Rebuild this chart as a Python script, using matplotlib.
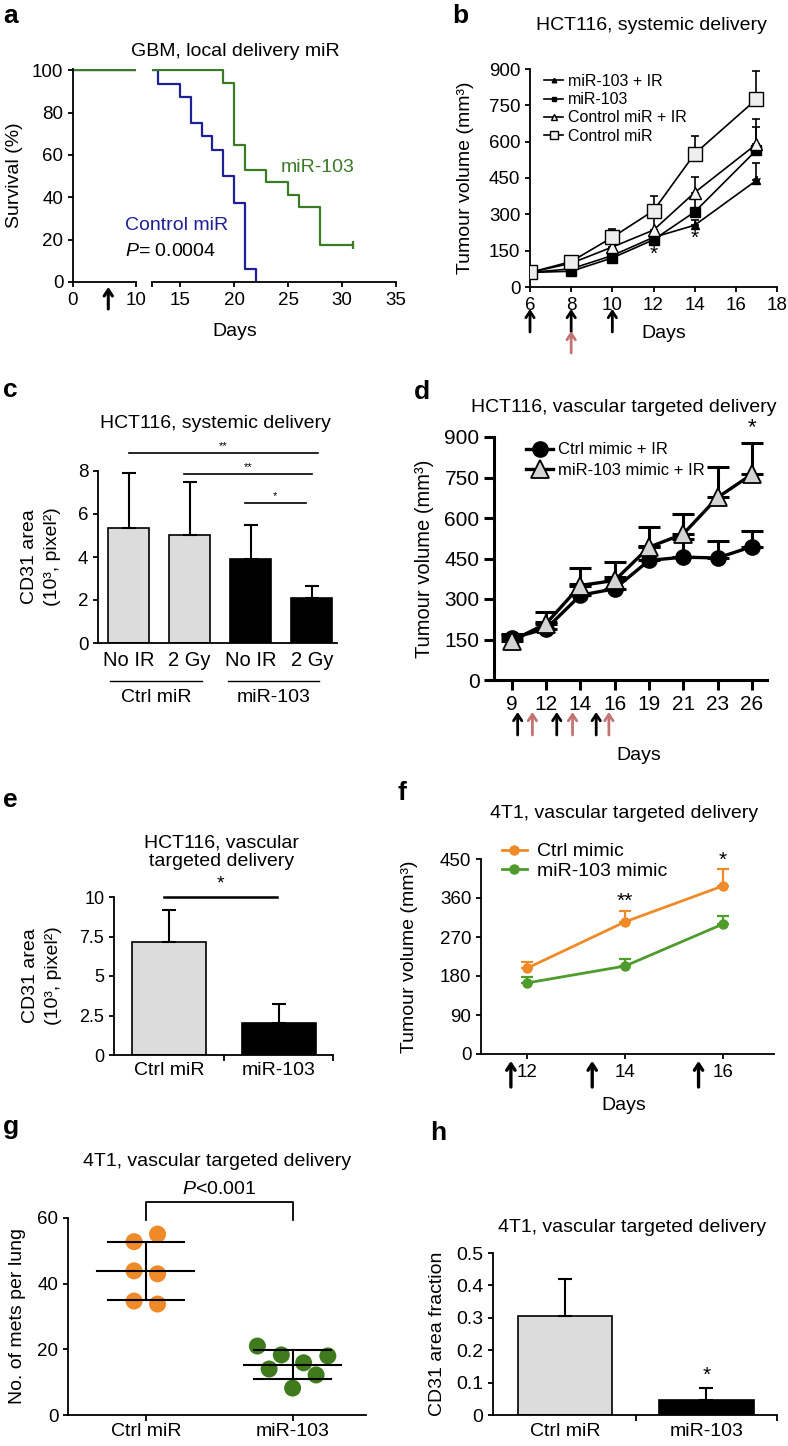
import matplotlib
matplotlib.use("Agg")
import matplotlib.pyplot as plt
import numpy as np

plt.rcParams["font.family"] = ["Liberation Sans", "DejaVu Sans"]
plt.rcParams["mathtext.fontset"] = "custom"
plt.rcParams["mathtext.rm"] = "Liberation Sans"
plt.rcParams["mathtext.it"] = "Liberation Sans:italic"
plt.rcParams["axes.linewidth"] = 1.3
plt.rcParams["xtick.major.width"] = 1.3
plt.rcParams["ytick.major.width"] = 1.3
plt.rcParams["xtick.labelsize"] = 13.5
plt.rcParams["ytick.labelsize"] = 13.5

# ── Data ──────────────────────────────────────────────────────────────────────

# a: survival, GBM local delivery
a_ctrl_days = [0, 13, 15, 16, 17, 18, 19, 20, 21, 22]
a_ctrl_surv = [100, 93.75, 87.5, 75, 68.75, 62.5, 50, 37.5, 6.25, 0]
a_mir_days = [0, 19, 20, 21, 23, 25, 26, 28, 31]
a_mir_surv = [100, 94.1, 64.7, 52.9, 47.1, 41.2, 35.3, 17.6, 17.6]
a_treat_day = 5.6

# b: HCT116 systemic delivery
b_days = [6, 8, 10, 12, 14, 17]
b_mir_ir = [60, 75, 130, 205, 255, 440]
b_mir_ir_err = [0, 5, 10, 15, 20, 70]
b_mir = [60, 65, 120, 195, 310, 565]
b_mir_err = [0, 5, 10, 20, 55, 95]
b_ctrl_ir = [60, 98, 165, 235, 390, 590]
b_ctrl_ir_err = [0, 5, 20, 48, 66, 105]
b_ctrl = [60, 105, 205, 315, 550, 775]
b_ctrl_err = [0, 8, 33, 62, 75, 115]
b_star_days = [12, 14, 17]
b_star_y = [135, 200, 425]
b_mir_arrows = [6, 8, 10]
b_ir_arrows = [8]

# c: CD31 area, systemic delivery
c_labels = ["No IR", "2 Gy", "No IR", "2 Gy"]
c_groups = ["Ctrl miR", "miR-103"]
c_vals = [5.35, 5.0, 3.93, 2.07]
c_err = [2.55, 2.47, 1.57, 0.57]

# d: HCT116 vascular targeted delivery
d_days = ["9", "12", "14", "16", "19", "21", "23", "26"]
d_ctrl = [155, 190, 314, 338, 443, 455, 452, 494]
d_ctrl_err = [15, 25, 40, 45, 55, 67, 64, 59]
d_mir = [145, 209, 350, 369, 492, 541, 676, 762]
d_mir_err = [20, 43, 64, 67, 74, 74, 114, 117]
d_mir_arrows = [0.17, 1.31, 2.46]
d_ir_arrows = [0.6, 1.77, 2.83]

# e: CD31 area, vascular targeted delivery
e_labels = ["Ctrl miR", "miR-103"]
e_vals = [7.17, 2.05]
e_err = [2.0, 1.2]

# f: 4T1 tumour volume
f_days = [12, 14, 16]
f_ctrl = [198, 305, 388]
f_ctrl_err = [14, 25, 39]
f_mir = [164, 203, 300]
f_mir_err = [14, 16, 18]
f_arrows = [11.67, 13.33, 15.5]

# g: lung metastases
g_labels = ["Ctrl miR", "miR-103"]
g_ctrl = [52.8, 55.1, 43.9, 43.0, 34.7, 33.8]
g_ctrl_x = [-0.08, 0.08, -0.08, 0.08, -0.08, 0.08]
g_mir = [21.0, 18.3, 18.0, 15.9, 14.0, 12.2, 8.2]
g_mir_x = [-0.24, -0.077, 0.24, 0.075, -0.16, 0.16, 0.0]

# h: CD31 area fraction, 4T1
h_labels = ["Ctrl miR", "miR-103"]
h_vals = [0.305, 0.046]
h_err = [0.115, 0.037]

GREY = "#dcdcdc"
BLUE = "#1f1f96"
DKGREEN = "#3d7a26"
ORANGE = "#ee8a28"
LTGREEN = "#4f9b2c"
GDOT = "#3f7a1c"
SALMON = "#c27472"
FS = 14

# ── Helpers ──────────────────────────────────────────────────────────────────

W, H = 788, 1446
fig = plt.figure(figsize=(W / 100, H / 100), dpi=100)


def add_ax(l, t, r, b):
    ax = fig.add_axes([l / W, 1 - b / H, (r - l) / W, (b - t) / H])
    ax.spines[["top", "right"]].set_visible(False)
    return ax


def ftext(x, y, s, **kw):
    kw.setdefault("ha", "center")
    kw.setdefault("va", "center")
    return fig.text(x / W, 1 - y / H, s, **kw)


def ylab(ax, s, x_px, size=FS, **kw):
    ax.set_ylabel(s, fontsize=size, va="center", **kw)
    bb = ax.get_position()
    ax.yaxis.set_label_coords((x_px / W - bb.x0) / bb.width, 0.5)


def up_arrow(ax, x, y0_px, y1_px, color="black", lw=2.0):
    ax.annotate("", xy=(x, 1 - y1_px / H), xytext=(x, 1 - y0_px / H),
                xycoords=("data", "figure fraction"),
                textcoords=("data", "figure fraction"),
                arrowprops=dict(arrowstyle="->,head_length=0.45,head_width=0.3",
                                color=color, lw=lw, shrinkA=0, shrinkB=0),
                annotation_clip=False)


def letter(x, y, s):
    ftext(x, y, s, fontsize=19, fontweight="bold", ha="left")


# ── a: survival ──────────────────────────────────────────────────────────────

axa1 = add_ax(73, 69, 136, 282)
axa2 = add_ax(152, 69, 396, 282)
for ax in (axa1, axa2):
    ax.step(a_ctrl_days, a_ctrl_surv, where="post", color=BLUE, lw=1.6)
    ax.step(a_mir_days, a_mir_surv, where="post", color=DKGREEN, lw=1.6)
    ax.set_ylim(0, 100.6)
axa2.plot(a_mir_days[-1], a_mir_surv[-1], marker="|", ms=6, mew=1.6, color=DKGREEN)
axa1.set_xlim(0, 10)
axa1.set_xticks([0, 10])
axa1.set_yticks(np.arange(0, 101, 20))
axa2.set_xlim(12.4, 35)
axa2.set_xticks([15, 20, 25, 30, 35])
axa2.set_xticks([12.4], minor=True)
axa2.tick_params(axis="x", which="minor", length=3.5, width=1.3)
axa2.spines["left"].set_visible(False)
axa2.set_yticks([])
ylab(axa1, "Survival (%)", 14)
up_arrow(axa1, a_treat_day, 309, 287, lw=2.2)
ftext(235, 52, "GBM, local delivery miR", fontsize=FS)
ftext(235, 332, "Days", fontsize=FS)
ftext(318, 167, "miR-103", color=DKGREEN, fontsize=FS)
ftext(177, 226, "Control miR", color=BLUE, fontsize=FS)
ftext(170, 252, "$P$= 0.0004", fontsize=FS)
letter(3, 16, "a")

# ── b: systemic delivery growth ──────────────────────────────────────────────

axb = add_ax(530, 69, 777, 287)
for vals, err in [(b_mir_ir, b_mir_ir_err), (b_mir, b_mir_err),
                  (b_ctrl_ir, b_ctrl_ir_err), (b_ctrl, b_ctrl_err)]:
    axb.errorbar(b_days, vals, yerr=[np.zeros(len(err)), err], fmt="none",
                 ecolor="black", elinewidth=1.2, capsize=3, capthick=1.2)
axb.plot(b_days, b_mir_ir, "-^", color="black", ms=6, lw=1.2, label="miR-103 + IR", zorder=3)
axb.plot(b_days, b_mir, "-s", color="black", ms=6.5, lw=1.2, label="miR-103", zorder=3)
axb.plot(b_days, b_ctrl_ir, "-^", color="black", mfc="#f4f4f4", mec="black", ms=9,
         lw=1.2, label="Control miR + IR", zorder=4)
axb.plot(b_days, b_ctrl, "-s", color="black", mfc="#eeeeee", mec="black", ms=10,
         lw=1.2, label="Control miR", zorder=5)
for d, y in zip(b_star_days, b_star_y):
    axb.text(d, y, "*", ha="center", va="center", fontsize=15)
axb.set_xlim(6, 18)
axb.set_ylim(0, 900)
axb.set_xticks(np.arange(6, 19, 2))
axb.set_yticks(np.arange(0, 901, 150))
axb.legend(loc="upper left", bbox_to_anchor=(536 / W, 1 - 66 / H),
           bbox_transform=fig.transFigure, frameon=False, fontsize=11.5,
           handlelength=1.2, handletextpad=0.3, labelspacing=0.2,
           borderpad=0, markerscale=0.55)
ylab(axb, "Tumour volume (mm³)", 465)
for d in b_mir_arrows:
    up_arrow(axb, d, 332, 309)
for d in b_ir_arrows:
    up_arrow(axb, d, 353, 331, color=SALMON)
ftext(664, 333, "Days", fontsize=FS)
ftext(651, 25, "HCT116, systemic delivery", fontsize=FS)
letter(452, 16, "b")

# ── c: CD31 area, systemic delivery ──────────────────────────────────────────

axc = add_ax(98, 471, 337, 643)
xc = np.arange(len(c_vals))
axc.bar(xc, c_vals, width=0.67, color=[GREY, GREY, "black", "black"],
        edgecolor="black", linewidth=1.2,
        yerr=[np.zeros(len(c_err)), c_err], capsize=5,
        error_kw=dict(elinewidth=1.5, capthick=1.5, ecolor="black"))
axc.set_xlim(-0.5, 3.41)
axc.set_ylim(0, 8)
axc.set_yticks(np.arange(0, 9, 2))
axc.set_xticks(xc)
axc.set_xticklabels(c_labels, fontsize=14.5)
axc.tick_params(axis="x", length=0, pad=6)
for (x0, x1), name in zip([(-0.31, 1.2), (1.63, 3.12)], c_groups):
    axc.plot([x0, x1], [-1.77, -1.77], color="black", lw=1.0, clip_on=False)
    axc.text((x0 + x1) / 2, -2.55, name, ha="center", va="center", fontsize=FS)
for x0, x1, y, s in [(0, 3.1, 8.84, "**"), (0.91, 3.0, 7.86, "**"), (1.9, 2.9, 6.5, "*")]:
    axc.plot([x0, x1], [y, y], color="black", lw=1.2, clip_on=False)
    axc.text((x0 + x1) / 2, y + 0.08, s, ha="center", va="bottom", fontsize=8)
ylab(axc, "CD31 area\n(10³, pixel²)", 41, linespacing=1.4)
ftext(215, 423, "HCT116, systemic delivery", fontsize=FS)
letter(3, 390, "c")

# ── d: vascular targeted delivery + IR ───────────────────────────────────────

axd = add_ax(494, 437, 767, 680)
for ax_ in axd.spines.values():
    ax_.set_linewidth(2.2)
xd = np.arange(len(d_days))
axd.errorbar(xd, d_ctrl, yerr=[np.zeros(len(d_ctrl_err)), d_ctrl_err], fmt="none",
             ecolor="black", elinewidth=2.2, capsize=8, capthick=2.2)
axd.errorbar(xd, d_mir, yerr=[np.zeros(len(d_mir_err)), d_mir_err], fmt="none",
             ecolor="black", elinewidth=2.2, capsize=8, capthick=2.2)
axd.plot(xd, d_ctrl, "-o", color="black", ms=11, lw=2.4, label="Ctrl mimic + IR", zorder=3)
axd.plot(xd, d_mir, "-^", color="black", mfc="#d4d4d4", mec="black", mew=1.3, ms=13,
         lw=2.4, label="miR-103 mimic + IR", zorder=4)
axd.text(xd[-1], 935, "*", ha="center", va="center", fontsize=16)
axd.set_xlim(-0.52, 7.44)
axd.set_ylim(0, 900)
axd.set_xticks(xd)
axd.set_xticklabels(d_days)
axd.set_yticks(np.arange(0, 901, 150))
axd.tick_params(labelsize=15, width=2.2, length=7)
axd.legend(loc="upper left", bbox_to_anchor=(518 / W, 1 - 434 / H),
           bbox_transform=fig.transFigure, frameon=False, fontsize=12,
           handlelength=1.6, handletextpad=0.3, labelspacing=0.35, borderpad=0)
ylab(axd, "Tumour volume (mm³)", 425, size=14.5)
for d in d_mir_arrows:
    up_arrow(axd, d, 735, 712)
for d in d_ir_arrows:
    up_arrow(axd, d, 735, 712, color=SALMON)
ftext(639, 755, "Days", fontsize=FS)
ftext(624, 407, "HCT116, vascular targeted delivery", fontsize=14)
letter(414, 392, "d")

# ── e: CD31 area, vascular targeted delivery ─────────────────────────────────

axe = add_ax(114, 897, 333, 1055)
xe = np.arange(len(e_vals))
axe.bar(xe, e_vals, width=0.67, color=[GREY, "black"], edgecolor="black", linewidth=1.2,
        yerr=[np.zeros(len(e_err)), e_err], capsize=5,
        error_kw=dict(elinewidth=1.5, capthick=1.5, ecolor="black"))
axe.set_xlim(-0.5, 1.49)
axe.set_ylim(0, 10)
axe.set_yticks([0, 2.5, 5, 7.5, 10])
axe.set_yticklabels(["0", "2.5", "5", "7.5", "10"], fontsize=13)
axe.set_xticks(xe)
axe.set_xticklabels(e_labels, fontsize=FS)
axe.set_xticks([0.5, 1.49], minor=True)
axe.tick_params(axis="x", which="major", length=0, pad=5)
axe.tick_params(axis="x", which="minor", length=4, width=1.3)
axe.plot([-0.05, 0.98], [10, 10], color="black", lw=1.8, clip_on=False)
axe.text(0.47, 10.3, "*", ha="center", va="bottom", fontsize=14)
ylab(axe, "CD31 area\n(10³, pixel²)", 42, linespacing=1.4)
ftext(222, 852, "HCT116, vascular\ntargeted delivery", fontsize=FS, linespacing=1.15)
letter(3, 800, "e")

# ── f: 4T1 tumour volume ─────────────────────────────────────────────────────

axf = add_ax(481, 859, 774, 1054)
axf.errorbar(f_days, f_ctrl, yerr=[np.zeros(len(f_ctrl_err)), f_ctrl_err], fmt="none",
             ecolor=ORANGE, elinewidth=1.6, capsize=4, capthick=1.6)
axf.errorbar(f_days, f_mir, yerr=[np.zeros(len(f_mir_err)), f_mir_err], fmt="none",
             ecolor=LTGREEN, elinewidth=1.6, capsize=4, capthick=1.6)
axf.plot(f_days, f_ctrl, "-o", color=ORANGE, ms=6.5, lw=2, label="Ctrl mimic", zorder=3)
axf.plot(f_days, f_mir, "-o", color=LTGREEN, ms=6.5, lw=2, label="miR-103 mimic", zorder=3)
axf.text(14, 352, "**", ha="center", va="center", fontsize=15)
axf.text(16, 447, "*", ha="center", va="center", fontsize=15)
axf.set_xlim(11.06, 17.04)
axf.set_ylim(0, 450)
axf.set_xticks(f_days)
axf.set_yticks(np.arange(0, 451, 90))
axf.legend(loc="upper left", bbox_to_anchor=(492 / W, 1 - 833 / H),
           bbox_transform=fig.transFigure, frameon=False, fontsize=FS,
           handlelength=1.3, handletextpad=0.5, labelspacing=0.1, borderpad=0)
ylab(axf, "Tumour volume (mm³)", 410)
for d in f_arrows:
    up_arrow(axf, d, 1087, 1061, lw=2.4)
ftext(624, 1105, "Days", fontsize=FS)
ftext(624, 813, "4T1, vascular targeted delivery", fontsize=FS)
letter(398, 793, "f")

# ── g: lung metastases ───────────────────────────────────────────────────────

axg = add_ax(68, 1218, 366, 1415)
for i, (vals, offs, col) in enumerate([(g_ctrl, g_ctrl_x, ORANGE), (g_mir, g_mir_x, GDOT)]):
    axg.scatter(i + np.array(offs), vals, s=150, color=col, edgecolors="none", zorder=2)
    m, sd = np.mean(vals), np.std(vals, ddof=1)
    axg.plot([i - 0.33, i + 0.33], [m, m], color="black", lw=1.5, zorder=3)
    axg.plot([i - 0.26, i + 0.26], [m + sd, m + sd], color="black", lw=1.5, zorder=3)
    axg.plot([i - 0.26, i + 0.26], [m - sd, m - sd], color="black", lw=1.5, zorder=3)
    axg.plot([i, i], [m - sd, m + sd], color="black", lw=1.5, zorder=3)
axg.plot([0, 0, 1, 1], [59.3, 64.9, 64.9, 59.3], color="black", lw=1.3, clip_on=False)
axg.text(0.5, 66.0, "$P$<0.001", ha="center", va="bottom", fontsize=FS)
axg.set_xlim(-0.53, 1.5)
axg.set_ylim(0, 60)
axg.set_yticks([0, 20, 40, 60])
axg.set_xticks([0, 1])
axg.set_xticklabels(g_labels, fontsize=FS)
axg.tick_params(axis="x", length=4, pad=2)
ylab(axg, "No. of mets per lung", 18, size=FS)
ftext(217, 1162, "4T1, vascular targeted delivery", fontsize=FS)
letter(3, 1127, "g")

# ── h: CD31 area fraction ────────────────────────────────────────────────────

axh = add_ax(493, 1253, 777, 1415)
xh = np.arange(len(h_vals))
axh.bar(xh, h_vals, width=0.67, color=[GREY, "black"], edgecolor="black", linewidth=1.2,
        yerr=[np.zeros(len(h_err)), h_err], capsize=5,
        error_kw=dict(elinewidth=1.5, capthick=1.5, ecolor="black"))
axh.text(1, 0.123, "*", ha="center", va="center", fontsize=15)
axh.set_xlim(-0.51, 1.5)
axh.set_ylim(0, 0.5)
axh.set_yticks([0, 0.1, 0.2, 0.3, 0.4, 0.5])
axh.set_yticklabels(["0", "0.1", "0.2", "0.3", "0.4", "0.5"], fontsize=14)
axh.set_xticks(xh)
axh.set_xticklabels(h_labels, fontsize=FS)
axh.set_xticks([0.5, 1.5], minor=True)
axh.tick_params(axis="x", which="major", length=0, pad=6)
axh.tick_params(axis="x", which="minor", length=4, width=1.3)
ylab(axh, "CD31 area fraction", 437)
ftext(632, 1228, "4T1, vascular targeted delivery", fontsize=FS)
letter(430, 1133, "h")

fig.savefig("out.png", dpi=100)
